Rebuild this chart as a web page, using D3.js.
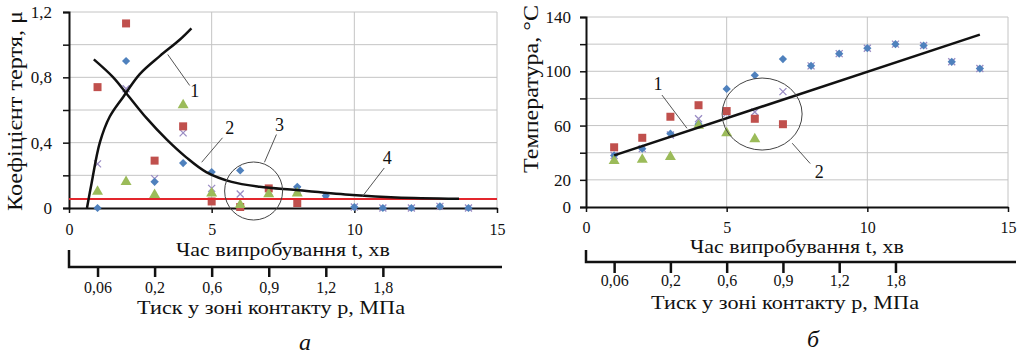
<!DOCTYPE html>
<html>
<head>
<meta charset="utf-8">
<script src="https://cdn.jsdelivr.net/npm/d3@7"></script>
<style>
  body { margin: 0; background: #fff; }
  text { font-family: "Liberation Serif", "Times New Roman", serif; fill: #111; }
</style>
</head>
<body>
<div class="svg-container"></div>
<script>
// time of test, min
const time = [1, 2, 3, 4, 5, 6, 7, 8, 9, 10, 11, 12, 13, 14];

// panel a: friction coefficient
const muBlue   = [0, 0.9, 0.16, 0.275, 0.22, 0.23, null, 0.13, 0.075, 0.006, 0, 0, 0.01, 0];
const muRed    = [0.74, 1.13, 0.29, 0.5, 0.04, 0.006, 0.12, 0.03, null, null, null, null, null, null];
const muGreen  = [0.1, 0.16, 0.08, 0.63, 0.09, 0.02, 0.085, 0.09, null, null, null, null, null, null];
const muPurple = [0.27, 0.73, 0.18, 0.46, 0.12, 0.086, 0.1, 0.11, 0.075, 0.006, 0, 0, 0.01, 0];
const muCurve1 = [[0.63, 0], [0.79, 0.15], [1.08, 0.4], [1.43, 0.56], [1.9, 0.68], [2.48, 0.82], [3.18, 0.93], [3.88, 1.03], [4.29, 1.1]];
const muCurve2 = [[0.87, 0.91], [1.55, 0.8], [2.02, 0.7], [2.72, 0.55], [3.42, 0.42], [4.11, 0.31], [4.81, 0.22], [5.7, 0.16], [6.68, 0.13], [7.96, 0.11], [9.94, 0.08], [11.46, 0.065], [13.67, 0.057]];
const muLimit = 0.055;

// panel б: temperature
const tBlue   = [38, 43, 54, 61, 87, 97, 109, 104, 113, 117, 120, 119, 107, 102];
const tRed    = [44, 51, 66.5, 75, 70.7, 65, 61, null, null, null, null, null, null, null];
const tGreen  = [34, 35, 37, 60, 54.5, 50, null, null, null, null, null, null, null, null];
const tPurple = [38, 43, 53, 65, 69, 70, 85, 104, 113, 117, 120, 119, 107, 102];
const tTrend  = [[1, 38], [14, 127]];

// secondary axis: contact pressure, MPa
const pressureLabels = ['0,06', '0,2', '0,6', '0,9', '1,2', '1,8'];
const timeTicks = [0, 5, 10, 15];

const colors = { blue: '#4f81bd', red: '#c0504d', green: '#9bbb59', purple: '#9a8cc4' };

const svg = d3.select('.svg-container')
  .append('svg')
  .attr('width', 1023)
  .attr('height', 354);

const comma = d => String(d).replace('.', ',');

function stretched(sel, len) {
  // the scanned figure has slightly widened lettering
  return sel.attr('textLength', len).attr('lengthAdjust', 'spacingAndGlyphs');
}

function drawPanel(p) {
  const g = svg.append('g');
  const x = d3.scaleLinear().domain([0, 15]).range([p.x0, p.x1]);
  const y = d3.scaleLinear().domain([0, p.yMax]).range([p.yBot, p.yTop]);

  // grid
  g.selectAll('.hgrid').data(p.yTicks.filter(d => d > 0)).enter().append('line')
    .attr('x1', p.x0).attr('x2', p.x1)
    .attr('y1', d => y(d)).attr('y2', d => y(d))
    .attr('stroke', '#c4c4c4').attr('stroke-width', 1);
  g.selectAll('.vgrid').data(timeTicks.filter(d => d > 0)).enter().append('line')
    .attr('x1', d => x(d)).attr('x2', d => x(d))
    .attr('y1', p.yTop).attr('y2', p.yBot)
    .attr('stroke', '#c4c4c4').attr('stroke-width', 1);

  // axes
  const yAxis = d3.axisLeft(y).tickValues(p.yTicks).tickSize(6).tickPadding(p.yPad)
    .tickFormat(d => p.yLabels.includes(d) ? comma(d) : '');
  const ya = g.append('g').attr('transform', `translate(${p.x0},0)`).call(yAxis);
  ya.select('.domain').attr('stroke', '#111').attr('stroke-width', 2);
  ya.selectAll('.tick line').attr('stroke', '#111').attr('stroke-width', 1.5);
  ya.selectAll('text').style('font-size', '17px').attr('fill', '#111');

  const xAxis = d3.axisBottom(x).tickValues(timeTicks).tickSize(5).tickPadding(p.xPad).tickSizeOuter(0);
  const xa = g.append('g').attr('transform', `translate(0,${p.yBot})`).call(xAxis);
  xa.select('.domain').attr('stroke', '#111').attr('stroke-width', 2);
  xa.selectAll('.tick line').attr('stroke', '#111').attr('stroke-width', 1.5);
  xa.selectAll('text').style('font-size', '16px').attr('fill', '#111');

  stretched(g.append('text')
    .attr('x', (p.x0 + p.x1) / 2).attr('y', p.xTitleY)
    .attr('text-anchor', 'middle').style('font-size', '19px')
    .text('Час випробування t, хв'), 214);

  // secondary pressure axis
  const px = d3.scalePoint().domain(pressureLabels).range([x(1), x(11)]);
  g.append('path')
    .attr('d', `M${p.x0},${p.bracketTop}V${p.pLineY}H${p.pLineEnd}`)
    .attr('fill', 'none').attr('stroke', '#111').attr('stroke-width', 2.5);
  const pa = g.append('g').attr('transform', `translate(0,${p.pLineY})`)
    .call(d3.axisBottom(px).tickSize(p.pTickSize).tickPadding(p.pPad));
  pa.select('.domain').remove();
  pa.selectAll('.tick line').attr('stroke', '#111').attr('stroke-width', 2.5);
  pa.selectAll('text').style('font-size', '16px').attr('fill', '#111');

  stretched(g.append('text')
    .attr('x', p.pTitleX).attr('y', p.pTitleY)
    .attr('text-anchor', 'middle').style('font-size', '18px')
    .text('Тиск у зоні контакту p, МПа'), 268);

  g.append('text')
    .attr('x', (p.x0 + p.x1) / 2 + p.letterDx).attr('y', p.letterY)
    .attr('text-anchor', 'middle').style('font-size', '24px').style('font-style', 'italic')
    .text(p.letter);

  stretched(g.append('text')
    .attr('transform', `translate(${p.yTitleX},${p.yTitleY}) rotate(-90)`)
    .attr('text-anchor', 'middle').style('font-size', '20px')
    .text(p.yTitle), p.yTitleLen);

  return { g, x, y };
}

function drawSeries(ctx, values, kind, color) {
  const pts = time.map((t, i) => ({ t, v: values[i] })).filter(d => d.v !== null);
  const sel = ctx.g.selectAll(null).data(pts).enter().append('path')
    .attr('transform', d => `translate(${ctx.x(d.t)},${ctx.y(d.v)})` + (kind === 'diamond' ? ' rotate(45)' : ''));
  if (kind === 'x') {
    sel.attr('d', 'M-3.5,-3.5L3.5,3.5M-3.5,3.5L3.5,-3.5')
      .attr('stroke', color).attr('stroke-width', 1.3).attr('fill', 'none');
  } else {
    const type = kind === 'triangle' ? d3.symbolTriangle : d3.symbolSquare;
    const size = kind === 'square' ? 64 : kind === 'triangle' ? 52 : 34;
    sel.attr('d', d3.symbol().type(type).size(size)).attr('fill', color);
  }
}

function drawCurve(ctx, pts, color, width, curve) {
  ctx.g.append('path').datum(pts)
    .attr('d', d3.line().x(d => ctx.x(d[0])).y(d => ctx.y(d[1])).curve(curve))
    .attr('fill', 'none').attr('stroke', color).attr('stroke-width', width);
}

function leader(ctx, from, to, label, labelAt) {
  ctx.g.append('line')
    .attr('x1', ctx.x(from[0])).attr('y1', ctx.y(from[1]))
    .attr('x2', ctx.x(to[0])).attr('y2', ctx.y(to[1]))
    .attr('stroke', '#555').attr('stroke-width', 1);
  ctx.g.append('text')
    .attr('x', ctx.x(labelAt[0])).attr('y', ctx.y(labelAt[1]))
    .attr('text-anchor', 'middle').attr('dy', '0.35em').style('font-size', '18px')
    .text(label);
}

// ---- panel а
const a = drawPanel({
  x0: 69, x1: 497, yTop: 12, yBot: 208, yMax: 1.2,
  yTicks: [0, 0.2, 0.4, 0.6, 0.8, 1.0, 1.2], yLabels: [0, 0.4, 0.8, 1.2],
  yPad: 11, xPad: 11,
  xTitleY: 256, bracketTop: 250, pLineY: 267, pLineEnd: 502, pTickSize: 10, pPad: 5,
  pTitleX: 271, pTitleY: 314, letter: 'а', letterDx: 22, letterY: 350,
  yTitle: 'Коефіцієнт тертя, μ', yTitleX: 22, yTitleY: 111, yTitleLen: 200
});

drawSeries(a, muPurple, 'x', colors.purple);
drawSeries(a, muBlue, 'diamond', colors.blue);
drawSeries(a, muRed, 'square', colors.red);
drawSeries(a, muGreen, 'triangle', colors.green);

a.g.append('line')
  .attr('x1', a.x(0)).attr('x2', a.x(15))
  .attr('y1', a.y(muLimit)).attr('y2', a.y(muLimit))
  .attr('stroke', '#e3262d').attr('stroke-width', 2);

drawCurve(a, muCurve1, '#111', 2.5, d3.curveCatmullRom);
drawCurve(a, muCurve2, '#111', 2.5, d3.curveCatmullRom);

a.g.append('circle')
  .attr('cx', a.x(6.47)).attr('cy', a.y(0.104)).attr('r', 29)
  .attr('fill', 'none').attr('stroke', '#444').attr('stroke-width', 1);

leader(a, [3.46, 0.94], [4.23, 0.75], '1', [4.41, 0.72]);
leader(a, [4.65, 0.28], [5.38, 0.43], '2', [5.63, 0.49]);
leader(a, [6.85, 0.28], [7.27, 0.45], '3', [7.38, 0.51]);
leader(a, [10.28, 0.07], [11.05, 0.245], '4', [11.15, 0.31]);

// ---- panel б
const b = drawPanel({
  x0: 586, x1: 1008, yTop: 17, yBot: 207, yMax: 140,
  yTicks: [0, 20, 40, 60, 80, 100, 120, 140], yLabels: [0, 20, 60, 100, 140],
  yPad: 9, xPad: 10,
  xTitleY: 253, bracketTop: 250, pLineY: 262, pLineEnd: 1016, pTickSize: 11, pPad: 2,
  pTitleX: 785, pTitleY: 309, letter: 'б', letterDx: 16, letterY: 347,
  yTitle: 'Температура, °С', yTitleX: 538, yTitleY: 89, yTitleLen: 168
});

drawSeries(b, tPurple, 'x', colors.purple);
drawSeries(b, tBlue, 'diamond', colors.blue);
drawSeries(b, tRed, 'square', colors.red);
drawSeries(b, tGreen, 'triangle', colors.green);

drawCurve(b, tTrend, '#111', 2.5, d3.curveLinear);

b.g.append('ellipse')
  .attr('cx', b.x(6.26)).attr('cy', b.y(68.5)).attr('rx', 40).attr('ry', 36)
  .attr('fill', 'none').attr('stroke', '#444').attr('stroke-width', 1);

leader(b, [2.7, 82.5], [3.59, 58], '1', [2.56, 91]);
leader(b, [7.33, 47], [7.97, 32], '2', [8.29, 26]);
</script>
</body>
</html>
